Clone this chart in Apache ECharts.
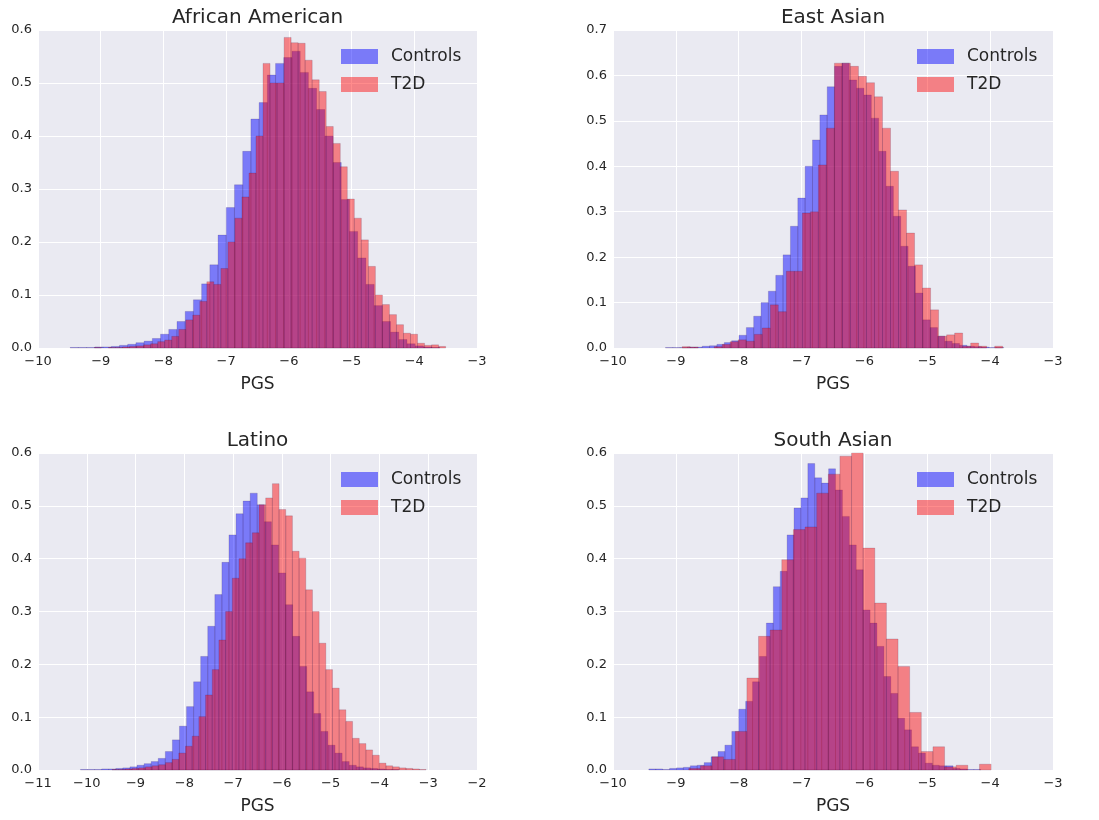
<!DOCTYPE html>
<html><head><meta charset="utf-8">
<script src="https://cdn.jsdelivr.net/npm/echarts@6/dist/echarts.min.js"></script>
<style>html,body{margin:0;padding:0;background:#fff}#c{width:1099px;height:820px}</style>
</head><body><div id="c"></div>
<script>
// ---- Data (density histograms) ----
const titles = ['African American', 'East Asian', 'Latino', 'South Asian'];
const seriesNames = ['Controls', 'T2D'];
const xTicksAA = [-10, -3], xTicksEA = [-10, -3], xTicksLA = [-11, -2], xTicksSA = [-10, -3];
const yMaxes = [0.6, 0.7, 0.6, 0.6];

const aaCtrlStart = -9.88, aaCtrlWidth = 0.131;
const aaCtrl = [0,0,0,0.001,0.001,0.001,0.002,0.002,0.003,0.005,0.007,0.010,0.013,0.018,0.026,0.035,0.050,0.069,0.091,0.121,0.157,0.213,0.265,0.308,0.371,0.432,0.463,0.515,0.537,0.548,0.560,0.52,0.49,0.45,0.40,0.35,0.28,0.22,0.17,0.12,0.08,0.05,0.03,0.016,0.008,0.004,0.002,0.001,0,0];
const aaT2DStart = -9.10, aaT2DWidth = 0.112;
const aaT2D = [0.001,0,0.001,0.001,0.002,0.003,0.004,0.006,0.008,0.012,0.015,0.022,0.035,0.053,0.062,0.088,0.125,0.12,0.15,0.20,0.245,0.285,0.33,0.40,0.537,0.50,0.50,0.586,0.576,0.575,0.543,0.506,0.484,0.418,0.386,0.342,0.281,0.245,0.204,0.154,0.10,0.082,0.063,0.044,0.028,0.026,0.009,0.005,0.006,0.003];

const eaCtrlStart = -9.40, eaCtrlWidth = 0.117;
const eaCtrl = [0,0,0.001,0.001,0.001,0.002,0.002,0.004,0.005,0.008,0.012,0.016,0.028,0.045,0.07,0.10,0.125,0.16,0.205,0.268,0.33,0.40,0.458,0.513,0.575,0.62,0.627,0.59,0.572,0.557,0.506,0.433,0.356,0.29,0.224,0.18,0.121,0.062,0.045,0.026,0.015,0.01,0.006,0.004,0.003,0.002,0.001,0.001,0,0];
const eaT2DStart = -8.90, eaT2DWidth = 0.1275;
const eaT2D = [0.003,0.002,0,0,0.003,0.008,0.014,0.018,0.015,0.03,0.044,0.095,0.08,0.169,0.169,0.297,0.30,0.403,0.484,0.627,0.627,0.62,0.598,0.584,0.553,0.484,0.389,0.304,0.253,0.183,0.132,0.084,0.026,0.029,0.033,0.004,0.011,0.004,0,0.004];

const laCtrlStart = -10.42, laCtrlWidth = 0.145;
const laCtrl = [0,0,0.001,0.001,0.001,0.002,0.002,0.003,0.004,0.006,0.009,0.012,0.016,0.022,0.035,0.057,0.083,0.12,0.167,0.215,0.272,0.332,0.393,0.445,0.485,0.509,0.524,0.502,0.47,0.426,0.373,0.313,0.253,0.196,0.148,0.107,0.073,0.047,0.032,0.016,0.009,0.006,0.004,0.003,0.002,0.001,0.001,0,0,0];
const laT2DStart = -9.62, laT2DWidth = 0.137;
const laT2D = [0,0.001,0.001,0.002,0.003,0.004,0.006,0.008,0.010,0.014,0.02,0.032,0.045,0.064,0.101,0.142,0.19,0.246,0.30,0.363,0.40,0.43,0.449,0.502,0.515,0.542,0.493,0.481,0.414,0.401,0.341,0.30,0.24,0.19,0.155,0.114,0.092,0.06,0.05,0.038,0.028,0.013,0.008,0.006,0.004,0.003,0.002,0.001,0,0];

const saCtrlStart = -9.43, saCtrlWidth = 0.11;
const saCtrl = [0.002,0.002,0.001,0.003,0.004,0.005,0.008,0.009,0.014,0.025,0.035,0.047,0.073,0.115,0.13,0.167,0.215,0.278,0.347,0.376,0.445,0.496,0.515,0.58,0.553,0.543,0.57,0.53,0.48,0.426,0.379,0.303,0.278,0.234,0.177,0.145,0.098,0.076,0.044,0.032,0.013,0.009,0.008,0.008,0.003,0.002,0.001,0.001,0,0];
const saT2DStart = -8.98, saT2DWidth = 0.185;
const saT2D = [0,0.003,0.008,0.025,0.02,0.073,0.174,0.253,0.265,0.398,0.455,0.46,0.524,0.56,0.594,0.60,0.42,0.316,0.248,0.196,0.109,0.035,0.044,0.006,0.009,0,0.011,0];

// ---- Build ----
const panels = [
  {ctrl:[aaCtrlStart, aaCtrlWidth, aaCtrl], t2d:[aaT2DStart, aaT2DWidth, aaT2D], x:xTicksAA},
  {ctrl:[eaCtrlStart, eaCtrlWidth, eaCtrl], t2d:[eaT2DStart, eaT2DWidth, eaT2D], x:xTicksEA},
  {ctrl:[laCtrlStart, laCtrlWidth, laCtrl], t2d:[laT2DStart, laT2DWidth, laT2D], x:xTicksLA},
  {ctrl:[saCtrlStart, saCtrlWidth, saCtrl], t2d:[saT2DStart, saT2DWidth, saT2D], x:xTicksSA}
];
const gridBoxes = [
  {left:38, top:30, width:439, height:318},
  {left:613, top:30, width:440, height:318},
  {left:38, top:453, width:439, height:317},
  {left:613, top:453, width:440, height:317}
];
const FONT = 'DejaVu Sans';
const TXT = '#262626';
const BLUE = 'rgba(0,0,255,0.48)';
const RED = 'rgba(255,0,0,0.45)';
const colors = [BLUE, RED];

function bins(spec){
  const [start, w, vals] = spec;
  return vals.map((v, i) => [start + i * w, start + (i + 1) * w, v]);
}
function makeRender(fill){
  return function(params, api){
    const h = api.value(2);
    if (!h) return null;
    const p0 = api.coord([api.value(0), h]);
    const p1 = api.coord([api.value(1), 0]);
    return {type:'rect', shape:{x:p0[0], y:p0[1], width:p1[0]-p0[0], height:p1[1]-p0[1]},
      style:{fill: fill, stroke:'rgba(40,0,60,0.22)', lineWidth:0.7}};
  };
}

const grid = [], xAxis = [], yAxis = [], series = [], legend = [], graphic = [];
panels.forEach((p, k) => {
  const g = gridBoxes[k];
  grid.push(Object.assign({show:true, backgroundColor:'#EAEAF2', borderWidth:0}, g));
  xAxis.push({type:'value', gridIndex:k, min:p.x[0], max:p.x[1], interval:1,
    name:'PGS', nameLocation:'middle', nameGap:28,
    nameTextStyle:{fontFamily:FONT, fontSize:17, color:TXT},
    axisLine:{show:false}, axisTick:{show:false},
    axisLabel:{fontFamily:FONT, fontSize:13, color:TXT, margin:7,
      formatter: v => String(v).replace('-', '\u2212')},
    splitLine:{show:true, lineStyle:{color:'#ffffff', width:1}}});
  yAxis.push({type:'value', gridIndex:k, min:0, max:yMaxes[k], interval:0.1,
    axisLine:{show:false}, axisTick:{show:false},
    axisLabel:{fontFamily:FONT, fontSize:13, color:TXT, margin:6, formatter: v => v.toFixed(1)},
    splitLine:{show:true, lineStyle:{color:'#ffffff', width:1}}});
  [p.ctrl, p.t2d].forEach((spec, j) => {
    series.push({type:'custom', name:seriesNames[j], xAxisIndex:k, yAxisIndex:k,
      itemStyle:{color:colors[j]}, renderItem:makeRender(colors[j]),
      encode:{x:[0,1], y:2}, data:bins(spec), silent:true});
  });
  legend.push({data:seriesNames, orient:'vertical', left:g.left + g.width - 141, top:g.top + 13,
    icon:'rect', itemWidth:37, itemHeight:15, itemGap:11, selectedMode:false,
    textStyle:{fontFamily:FONT, fontSize:17, color:TXT, padding:[0,0,0,8]}});
  graphic.push({type:'text', x:g.left + g.width/2, y:g.top - 12,
    style:{text:titles[k], textAlign:'center', textVerticalAlign:'middle',
      fontFamily:FONT, fontSize:20, fill:TXT}});
});

const chart = echarts.init(document.getElementById('c'), null, {renderer:'canvas'});
chart.setOption({backgroundColor:'#ffffff', animation:false, grid, xAxis, yAxis, series, legend, graphic});
</script></body></html>
